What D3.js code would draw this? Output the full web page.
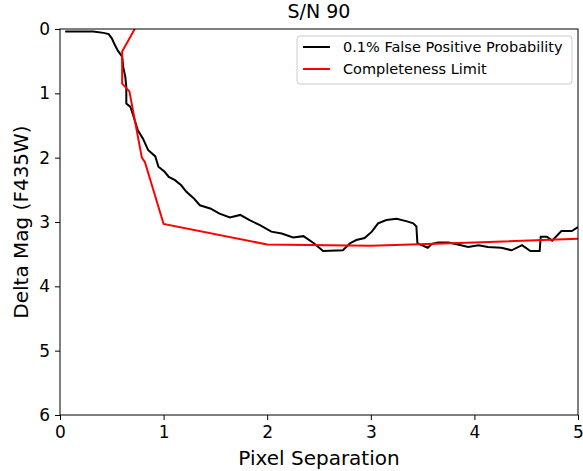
<!DOCTYPE html>
<html>
<head>
<meta charset="utf-8">
<script src="https://cdn.jsdelivr.net/npm/d3@7"></script>
<style>
  body { margin: 0; background: #fff; }
  svg { font-family: "DejaVu Sans", sans-serif; }
</style>
</head>
<body>
<svg width="583" height="471"></svg>
<script>
// false positive curve (pixel separation, delta mag)
const fpSep = [0.05, 0.32, 0.42, 0.47, 0.50, 0.53, 0.56, 0.60, 0.61, 0.63, 0.64, 0.64, 0.68, 0.71, 0.75, 0.80, 0.85, 0.92, 0.95, 1.01, 1.05, 1.11, 1.17, 1.22, 1.29, 1.35, 1.45, 1.54, 1.64, 1.74, 1.83, 1.93, 2.04, 2.14, 2.25, 2.35, 2.45, 2.54, 2.73, 2.80, 2.86, 2.94, 3.01, 3.07, 3.15, 3.25, 3.35, 3.41, 3.44, 3.45, 3.49, 3.55, 3.59, 3.65, 3.75, 3.84, 3.94, 4.04, 4.13, 4.26, 4.36, 4.46, 4.54, 4.63, 4.64, 4.70, 4.75, 4.84, 4.94, 5.00];
const fpMag = [0.04, 0.04, 0.06, 0.08, 0.145, 0.25, 0.34, 0.43, 0.59, 0.74, 0.90, 1.16, 1.21, 1.36, 1.57, 1.70, 1.88, 1.98, 2.14, 2.22, 2.30, 2.35, 2.43, 2.53, 2.63, 2.74, 2.79, 2.87, 2.93, 2.89, 2.97, 3.05, 3.15, 3.18, 3.24, 3.22, 3.33, 3.45, 3.44, 3.33, 3.28, 3.25, 3.15, 3.02, 2.97, 2.95, 2.99, 3.02, 3.07, 3.33, 3.36, 3.40, 3.34, 3.32, 3.32, 3.35, 3.39, 3.36, 3.39, 3.40, 3.44, 3.36, 3.45, 3.45, 3.23, 3.23, 3.29, 3.14, 3.14, 3.08];

// completeness limit
const clSep = [0.79, 0.60, 0.60, 0.67, 0.79, 0.82, 1.00, 2.00, 3.00, 4.00, 5.00];
const clMag = [-0.2, 0.35, 0.85, 0.97, 2.00, 2.07, 3.03, 3.35, 3.37, 3.32, 3.26];

const xTicks = [0, 1, 2, 3, 4, 5];
const yTicks = [0, 1, 2, 3, 4, 5, 6];

const legendLabels = ["0.1% False Positive Probability", "Completeness Limit"];
const legendColors = ["#000000", "#ff0000"];

const margin = {top: 29, right: 5, bottom: 56, left: 60};
const width = 583 - margin.left - margin.right;
const height = 471 - margin.top - margin.bottom;

const svg = d3.select("svg");
const g = svg.append("g").attr("transform", `translate(${margin.left},${margin.top})`);

const x = d3.scaleLinear().domain([0, 5]).range([0, width]);
const y = d3.scaleLinear().domain([0, 6]).range([0, height]);

g.append("clipPath").attr("id", "clip")
  .append("rect").attr("width", width).attr("height", height);

const line = d3.line().x(d => x(d[0])).y(d => y(d[1]));

g.append("path")
  .datum(fpSep.map((s, i) => [s, fpMag[i]]))
  .attr("clip-path", "url(#clip)")
  .attr("fill", "none").attr("stroke", "#000").attr("stroke-width", 2)
  .attr("d", line);

g.append("path")
  .datum(clSep.map((s, i) => [s, clMag[i]]))
  .attr("clip-path", "url(#clip)")
  .attr("fill", "none").attr("stroke", "#ff0000").attr("stroke-width", 2)
  .attr("d", line);

// axes
const xAxis = g.append("g").attr("transform", `translate(0,${height})`)
  .call(d3.axisBottom(x).tickValues(xTicks).tickFormat(d3.format("d")).tickSizeOuter(0).tickSize(5).tickPadding(4));
const yAxis = g.append("g")
  .call(d3.axisLeft(y).tickValues(yTicks).tickFormat(d3.format("d")).tickSizeOuter(0).tickSize(5).tickPadding(5));
[xAxis, yAxis].forEach(a => {
  a.selectAll("text").attr("font-size", 17).attr("fill", "#000").attr("font-family", "DejaVu Sans");
  a.select(".domain").remove();
  a.selectAll("line").attr("stroke", "#000");
});
xAxis.selectAll("text").attr("dy", "0.85em");

// frame
g.append("rect").attr("width", width).attr("height", height)
  .attr("fill", "none").attr("stroke", "#000").attr("stroke-width", 1);

// labels
svg.append("text").attr("x", margin.left + width / 2).attr("y", 18)
  .attr("text-anchor", "middle").attr("font-size", 19).text("S/N 90");
svg.append("text").attr("x", margin.left + width / 2).attr("y", 465)
  .attr("text-anchor", "middle").attr("font-size", 20).text("Pixel Separation");
svg.append("text")
  .attr("transform", `translate(28,${margin.top + height / 2}) rotate(-90)`)
  .attr("text-anchor", "middle").attr("font-size", 20).text("Delta Mag (F435W)");

// legend
const lg = svg.append("g").attr("transform", "translate(297,36)");
lg.append("rect").attr("width", 275).attr("height", 48).attr("rx", 3)
  .attr("fill", "#fff").attr("fill-opacity", 0.8).attr("stroke", "#ccc");
legendLabels.forEach((lab, i) => {
  const yy = 11 + i * 22;
  lg.append("line").attr("x1", 6).attr("x2", 33).attr("y1", yy).attr("y2", yy)
    .attr("stroke", legendColors[i]).attr("stroke-width", 2);
  lg.append("text").attr("x", 46).attr("y", yy).attr("dy", "0.35em")
    .attr("font-size", 14.5).text(lab);
});
</script>
</body>
</html>
